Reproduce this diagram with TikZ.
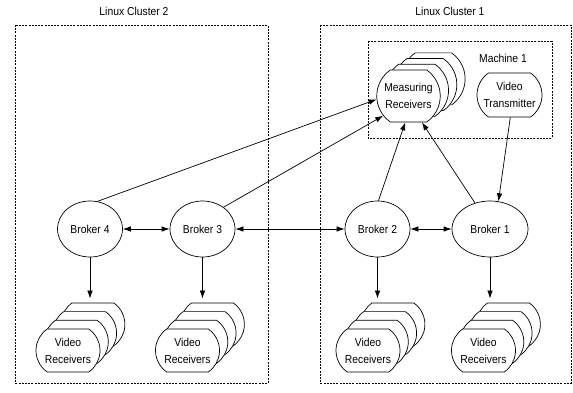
\documentclass[tikz,border=0pt]{standalone}
\usepackage{fontspec}
\setmainfont{Liberation Sans}[FakeStretch=0.9]
\usetikzlibrary{shapes.geometric,shapes.misc,arrows.meta}
\begin{document}
\begin{tikzpicture}[x=1pt,y=-1pt,
  every node/.style={font=\fontsize{11.5}{17}\selectfont},
  grp/.style={draw, line width=0.6pt, dash pattern=on 2pt off 1.2pt},
  broker/.style={draw, ellipse, line width=0.7pt, minimum width=65pt, minimum height=56pt, inner sep=0pt},
  rbox/.style={draw, rounded rectangle, rounded rectangle arc length=110, fill=white, line width=0.7pt, align=center, inner sep=0pt},
  vrbox/.style={rbox, minimum width=64pt, minimum height=43pt},
  mrbox/.style={rbox, minimum width=63pt, minimum height=52pt},
  arr/.style={line width=0.7pt, -{Latex[length=8pt,width=5.5pt]}},
  darr/.style={line width=0.7pt, {Latex[length=8pt,width=5.5pt]}-{Latex[length=8pt,width=5.5pt]}},
]
\useasboundingbox (0,0) rectangle (573,393);

% group frames
\draw[grp] (15,25) rectangle (268,383);
\draw[grp] (320,25) rectangle (571,383);
\draw[grp] (368,41) rectangle (552,138);
\node (lc2) at (134,11) {Linux Cluster 2};
\node (lc1) at (450,11) {Linux Cluster 1};
\node (m1) at (503,58) {Machine 1};

% measuring receivers stack
\foreach \k in {3,2,1}
  \node[mrbox] (mrs\k) at ({408.5+\k*8.3},{96-\k*5.7}) {};
\node[mrbox] (mr) at (408.5,96) {Measuring\\Receivers};

% video transmitter
\node[rbox, minimum width=65pt, minimum height=44pt] (vt) at (509.5,95) {Video\\Transmitter};

% brokers
\node[broker] (b4) at (90,229) {Broker 4};
\node[broker] (b3) at (202.5,229) {Broker 3};
\node[broker] (b2) at (377.5,229) {Broker 2};
\node[broker, minimum width=76pt] (b1) at (490,229) {Broker 1};

% video receivers stacks
\foreach \n/\x in {4/68,3/187.5,2/368,1/483.5}{
  \foreach \k in {3,2,1}
    \node[vrbox] (vr\n s\k) at ({\x+\k*8.3},{350.5-\k*8.7}) {};
  \node[vrbox] (vr\n) at (\x,350.5) {Video\\Receivers};
}

% broker links
\draw[darr] (b4) -- (b3);
\draw[darr] (b3) -- (b2);
\draw[darr] (b2) -- (b1);

% brokers to video receivers
\foreach \n in {4,3,2,1}
  \draw[arr, shorten >=4pt] (b\n.south) -- (b\n.south |- vr\n s3.north);

% to measuring receivers
\draw[arr] (b4.75) -- (mr.186);
\draw[arr] (b3.46) -- (mr.218);
\draw[arr] (b2.88) -- (mr.263);
\draw[arr] (b1.120) -- (mr.297);
\draw[arr] (vt.272) -- (b1.73);
\end{tikzpicture}
\end{document}
